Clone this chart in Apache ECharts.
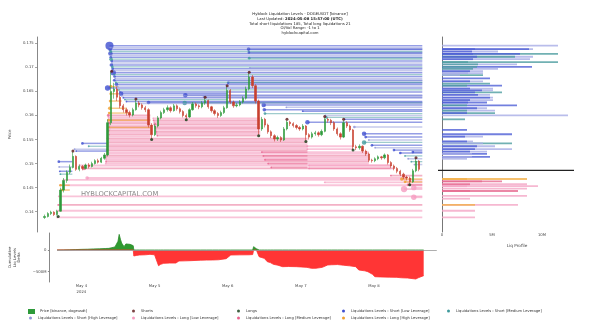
<!DOCTYPE html>
<html><head><meta charset="utf-8">
<script src="https://cdn.jsdelivr.net/npm/echarts@6/dist/echarts.min.js"></script>
<style>html,body{margin:0;padding:0;background:#fff}#c{width:600px;height:326px}</style>
</head><body><div id="c"></div>
<script>
// ---------- DATA ----------
// hourly candles, first candle at hour 16 of May 3 (hours counted from 2024-05-03 00:00 UTC)
const candleStartHour = 16;
const candles = [ // [open, close, low, high]
[.1388,.1390,.1385,.1394],[.1390,.1396,.1388,.1399],[.1396,.1399,.1393,.1402],[.1399,.1394,.1391,.1401],
[.1394,.1401,.1392,.1404],[.1401,.1445,.1400,.1450],[.1445,.1465,.1440,.1470],[.1465,.1482,.1460,.1486],
[.1482,.1492,.1478,.1498],[.1492,.1515,.1490,.1524],[.1515,.1488,.1485,.1517],[.1488,.1494,.1484,.1498],
[.1494,.1490,.1486,.1497],[.1490,.1497,.1488,.1500],[.1497,.1494,.1490,.1501],[.1494,.1500,.1492,.1504],
[.1500,.1506,.1498,.1509],[.1506,.1503,.1500,.1510],[.1503,.1511,.1501,.1514],[.1511,.1518,.1508,.1522],
[.1518,.1585,.1515,.1592],[.1585,.1650,.1580,.1690],[.1650,.1655,.1635,.1668],[.1655,.1638,.1630,.1660],
[.1638,.1620,.1615,.1642],[.1620,.1612,.1606,.1624],[.1612,.1606,.1600,.1616],[.1606,.1601,.1596,.1610],
[.1601,.1612,.1598,.1616],[.1612,.1626,.1610,.1632],[.1626,.1622,.1617,.1630],[.1622,.1616,.1612,.1625],
[.1616,.1612,.1607,.1620],[.1612,.1580,.1575,.1615],[.1580,.1560,.1552,.1584],[.1560,.1578,.1557,.1582],
[.1578,.1595,.1575,.1599],[.1595,.1606,.1592,.1610],[.1606,.1612,.1603,.1616],[.1612,.1616,.1608,.1621],
[.1616,.1610,.1606,.1619],[.1610,.1620,.1608,.1624],[.1620,.1614,.1610,.1623],[.1614,.1608,.1604,.1617],
[.1608,.1600,.1596,.1611],[.1600,.1597,.1593,.1604],[.1597,.1612,.1595,.1615],[.1612,.1624,.1610,.1628],
[.1624,.1620,.1616,.1627],[.1620,.1618,.1613,.1623],[.1618,.1626,.1615,.1630],[.1626,.1631,.1622,.1636],
[.1631,.1618,.1614,.1633],[.1618,.1610,.1606,.1620],[.1610,.1604,.1600,.1613],[.1604,.1600,.1595,.1607],
[.1600,.1606,.1597,.1610],[.1606,.1616,.1603,.1620],[.1616,.1652,.1614,.1660],[.1652,.1628,.1624,.1655],
[.1628,.1620,.1616,.1631],[.1620,.1622,.1617,.1626],[.1622,.1628,.1619,.1632],[.1628,.1636,.1625,.1640],
[.1636,.1655,.1633,.1660],[.1655,.1680,.1652,.1688],[.1680,.1662,.1657,.1684],[.1662,.1630,.1625,.1665],
[.1630,.1572,.1560,.1633],[.1572,.1592,.1568,.1597],[.1592,.1580,.1575,.1595],[.1580,.1566,.1562,.1583],
[.1566,.1558,.1553,.1569],[.1558,.1551,.1546,.1561],[.1551,.1554,.1547,.1558],[.1554,.1549,.1545,.1557],
[.1549,.1572,.1547,.1576],[.1572,.1586,.1569,.1590],[.1586,.1583,.1578,.1589],[.1583,.1579,.1575,.1586],
[.1579,.1575,.1571,.1582],[.1575,.1572,.1568,.1578],[.1572,.1578,.1569,.1582],[.1578,.1560,.1548,.1580],
[.1560,.1555,.1550,.1563],[.1555,.1562,.1552,.1566],[.1562,.1564,.1558,.1568],[.1564,.1560,.1556,.1567],
[.1560,.1567,.1557,.1571],[.1567,.1592,.1565,.1596],[.1592,.1590,.1585,.1595],[.1590,.1585,.1580,.1593],
[.1585,.1572,.1568,.1588],[.1572,.1562,.1558,.1575],[.1562,.1555,.1550,.1565],[.1555,.1585,.1553,.1590],
[.1585,.1578,.1574,.1588],[.1578,.1570,.1566,.1581],[.1570,.1535,.1530,.1572],[.1535,.1533,.1528,.1539],
[.1533,.1536,.1529,.1540],[.1536,.1526,.1522,.1538],[.1526,.1520,.1516,.1529],[.1520,.1507,.1503,.1523],
[.1507,.1506,.1502,.1510],[.1506,.1510,.1503,.1513],[.1510,.1514,.1507,.1517],[.1514,.1512,.1508,.1516],
[.1512,.1518,.1509,.1521],[.1518,.1502,.1498,.1520],[.1502,.1495,.1491,.1505],[.1495,.1490,.1486,.1498],
[.1490,.1484,.1480,.1493],[.1484,.1478,.1474,.1487],[.1478,.1472,.1468,.1481],[.1472,.1470,.1465,.1475],
[.1470,.1462,.1458,.1473],[.1462,.1485,.1460,.1489],[.1485,.1505,.1482,.1510],[.1505,.1488,.1484,.1507]
];

// liquidation levels: [startHour, endHour, price, typeIndex, amount]
// type 0 Short Low, 1 Short Medium, 2 Short High, 3 Long Low, 4 Long Medium, 5 Long High
const shortLevels = [
[36.6,136,.1745,0,9],[36.8,136,.1741,2,2],[36.8,136,.1737,0,4],[37.0,136,.1733,1,3],[36.9,136,.1729,0,5],
[37.2,136,.1725,2,2],[37.0,136,.1721,0,3],[37.1,136,.1717,1,4],[37.3,136,.1713,0,3],[37.4,136,.1709,2,2],
[37.2,136,.1705,0,4],[37.5,136,.1701,1,3],[37.6,136,.1697,0,3],[37.4,136,.1693,2,2],[37.8,136,.1689,0,6],
[38.0,136,.1685,1,2],[38.2,136,.1681,0,3],[38.4,136,.1677,2,2],[38.1,136,.1673,0,3],[38.6,136,.1669,1,2],
[38.8,136,.1665,0,4],[39.0,136,.1661,2,2],[36.0,136,.1657,0,6],[39.6,136,.1653,1,2],[39.9,136,.1649,0,2],
[40.3,74,.1645,0,5],[40.5,136,.1641,2,2],[41.0,136,.1637,0,2],[41.5,74,.1633,1,2],[42.0,136,.1629,0,2],
[45.5,136,.1625,2,1],
[60.7,136,.1642,0,5],[60.5,136,.1626,1,5],[49.0,136,.1627,0,4],[66.5,136,.1639,2,2],
[74.3,136,.1668,0,3],[74.5,136,.1672,2,2],[80.8,136,.1738,0,4],[80.9,136,.1731,0,3],[81.0,136,.1719,1,3],[81.2,136,.1699,2,2],
[85.6,136,.1622,0,5],[85.8,136,.1612,0,4],[86.0,136,.1604,1,3],[92.8,136,.1617,2,2],[98.0,136,.1609,0,2],
[99.5,136,.1586,0,5],[105.2,136,.1600,2,2],[105.5,136,.1596,1,3],
[111.3,136,.1592,0,2],[114.4,136,.1576,2,3],[117.5,136,.1562,0,5],[118.0,136,.1555,0,3],[117.5,136,.1544,1,5],
[119.0,136,.1549,2,2],[120.0,136,.1538,0,3],[121.0,136,.1533,2,2],
[127.0,136,.1528,0,3],[129.0,136,.1522,0,3],[130.5,136,.1516,1,2],[131.5,136,.1510,2,2],[132.5,136,.1504,1,2],
[133.5,136,.1498,2,2],[133.0,136,.1524,0,3],
[20.5,24.8,.1504,0,3],[20.6,24.8,.1493,2,2],[20.8,24.8,.1484,0,2],[21.0,24.8,.1478,1,2],
[28.0,35.8,.1542,0,3],[25.5,35.8,.1530,2,2],[26.0,35.8,.1526,0,2],[30.0,35.8,.1536,1,2]
];
const longLevels = [
[36.2,49.6,.1600,4,3],[36.3,49.6,.1596,3,2],[36.3,49.6,.1592,4,2],[36.4,49.6,.1588,3,2],[36.4,49.6,.1584,4,3],
[36.5,49.6,.1580,3,2],[36.5,49.6,.1576,4,2],[36.6,49.6,.1572,3,2],[36.2,49.6,.1568,4,3],[36.3,49.6,.1564,3,2],
[36.4,49.6,.1560,4,2],[36.2,49.6,.1556,3,2],
[36.1,99.5,.1552,4,3],[36.1,99.5,.1548,3,2],[36.0,99.5,.1544,4,2],[36.0,99.5,.1540,3,3],[36.0,99.5,.1536,4,2],
[35.9,99.5,.1532,3,2],[35.9,99.5,.1528,4,3],
[50.5,84.5,.1594,3,2],[50.6,84.5,.1590,4,2],[50.8,84.5,.1586,3,2],[51.0,84.5,.1582,4,3],[51.0,84.5,.1578,3,2],
[51.2,84.5,.1574,4,2],[51.4,84.5,.1570,3,2],[51.5,84.5,.1566,4,2],[51.6,84.5,.1562,3,2],[51.8,84.5,.1558,4,2],
[35.8,119,.1524,3,2],[35.8,119,.1520,3,2],[35.7,119,.1516,4,2],[35.6,119,.1512,3,2],[35.5,119,.1508,3,2],
[35.5,119,.1504,4,2],[35.4,119,.1500,3,2],
[85.0,99.5,.1524,4,2],[85.5,99.5,.1516,4,2],[86.0,99.5,.1508,4,2],[87.0,99.5,.1500,4,2],[88.0,99.5,.1492,4,2],
[99.5,114,.1536,3,2],[99.5,114,.1530,3,2],[100,126,.1496,3,2],[100,126,.1490,3,2],
[28.5,127,.1490,4,4],[29.5,131,.1470,3,4],[27.0,126,.1496,3,2],[22.0,136,.1466,3,2],[21.0,136,.1455,3,2],
[20.5,136,.1432,3,2],[20.3,136,.1414,4,2],[20.2,136,.1402,3,2],[20.0,136,.1388,3,2],
[37.0,39.5,.1660,5,4],[37.0,40.0,.1645,5,3],[36.8,40.5,.1630,5,3],[36.7,42.0,.1615,5,4],[36.5,43.0,.1605,5,3],
[36.3,49.6,.1590,5,3],[36.2,49.6,.1575,5,2],[21.0,24.0,.1455,5,3],[21.5,24.0,.1445,5,3],
[126,136,.1475,4,2],[129.5,136,.1468,5,4],[130.5,136,.1462,5,3],[131.5,136,.1456,4,3],[130.2,136,.1447,3,7],
[133.3,136,.1450,3,6],[133.3,136,.1430,3,6],[105,136,.1461,3,2]
];

// shorts / longs markers: [hour, price]
const shortsPts = [[25,.1526],[37.3,.1692],[45,.1634],[67,.1638],[74,.1662],[81,.1690],[93,.1592],[105,.1598],[111,.1592],[134,.1512]];
const longsPts = [[20.3,.1390],[50,.1550],[61,.1591],[84,.1558],[99,.1546],[114,.1528],[132,.1456]];

// cumulative liq levels delta (millions)
const deltaHours = [16,18,20,22,24,26,28,30,32,33,34,35,35.5,36,36.4,36.8,37.2,38,38.6,39,40,40.5,41,41.2,42,43,45,46.5,48,48.5,49.3,50,51,53,55,56,58,60,63,65,67,69,71.5,72,73,76,79,80.2,80.5,80.9,81.4,81.8,82.3,83,84,85,86,87,88.5,90,92,94.5,96,98,99.5,101,103,104.8,106,108,110,112,114,115,117,118,119.5,120.3,122,125,127.5,129,131,133.7,134.5,136.3];
const deltaValues = [0,3,5,10,15,18,25,28,35,38,55,70,115,200,360,250,160,77,140,154,130,135,100,-138,-125,-115,-110,-100,-110,-154,-361,-330,-307,-300,-300,-253,-250,-245,-235,-232,-230,-225,-200,-154,-115,-112,-110,-105,77,60,30,20,-154,-170,-192,-269,-290,-330,-350,-384,-380,-384,-390,-400,-422,-420,-400,-345,-340,-335,-350,-365,-384,-460,-480,-500,-560,-615,-620,-625,-630,-640,-645,-668,-640,-591];

// liq profile bars: [price, value (M), typeIndex]
const profile = [
[.1745,11.6,2],[.1738,9.1,2],[.1738,8.7,0],[.1738,3.3,0],[.1733,5.6,2],[.1733,3.0,0],[.1728,11.6,1],[.1728,7.8,0],[.1728,3.1,0],
[.1722,9.1,2],[.1722,7.3,1],[.1722,3.5,0],[.1717,8.8,2],[.1717,3.1,0],[.1711,11.6,1],[.1711,2.6,1],[.1706,7.5,2],[.1706,3.6,1],
[.1701,9.0,0],[.1701,3.5,1],[.1697,5.6,2],[.1697,3.1,1],[.1692,4.1,2],[.1692,2.8,0],[.1688,4.1,2],[.1688,2.6,2],[.1684,4.1,1],[.1684,1.8,2],
[.1677,4.8,0],[.1671,4.1,2],[.1671,2.8,0],[.1666,4.8,1],[.1662,6.0,0],[.1662,2.5,1],[.1656,5.1,2],[.1656,2.8,0],[.1652,5.1,2],[.1652,4.0,0],
[.1648,6.0,1],[.1648,3.3,0],[.1643,4.8,2],[.1643,3.6,0],[.1637,5.1,2],[.1637,4.8,0],[.1632,5.1,2],[.1632,2.8,0],[.1627,4.5,0],[.1627,2.6,0],
[.1621,7.5,0],[.1621,2.5,1],[.1615,4.5,2],[.1615,3.5,0],[.1610,5.3,2],[.1610,2.5,1],[.1605,5.3,1],[.1605,2.5,0],[.1600,12.6,2],
[.1592,2.3,1],[.1570,2.5,0],[.1561,7.0,0],[.1556,4.1,2],[.1556,2.3,0],[.1546,3.1,2],[.1546,2.5,0],[.1542,7.0,1],[.1542,4.1,2],
[.1536,5.3,2],[.1536,3.5,0],[.1530,7.0,2],[.1530,3.3,0],[.1525,4.5,2],[.1525,2.8,0],[.1520,4.5,0],[.1520,3.0,2],[.1514,4.8,0],[.1514,3.0,2],[.1510,2.5,2],
[.1468,8.5,5],[.1468,2.5,5],[.1463,6.0,4],[.1463,4.0,4],[.1457,8.5,3],[.1457,2.8,4],[.1453,9.6,3],[.1453,2.5,3],[.1448,8.5,3],
[.1443,7.6,4],[.1443,2.8,4],[.1433,8.5,3],[.1427,2.8,3],[.1414,7.6,3],[.1414,3.3,5],[.1402,3.3,3],[.1388,3.3,3]
];
const currentPrice = 0.1486;

const yTicks = [0.14,0.145,0.15,0.155,0.16,0.165,0.17,0.175];
const dayTicks = [24,48,72,96,120];
const dayLabels = ['May 4\n2024','May 5','May 6','May 7','May 8'];
const deltaTicks = [-500e6, 0];
const profileTicks = [0, 5e6, 10e6];

// ---------- CHART ----------
const FONT = 'DejaVu Sans';
const typeNames = ['Liquidations Levels - Short [Low Leverage]','Liquidations Levels - Short [Medium Leverage]','Liquidations Levels - Short [High Leverage]','Liquidations Levels - Long [Low Leverage]','Liquidations Levels - Long [Medium Leverage]','Liquidations Levels - Long [High Leverage]'];
const typeColors = ['#3e4fd0','#3f9a9c','#8e95d8','#f59cc0','#e8648e','#f0a030'];
const lineOpacity = [0.55,0.5,0.5,0.6,0.5,0.6];
const lineWidths = [1.5,1.3,1.5,1.8,1.8,1.4];
const profColors = ['#4f5fd6','#4e9ea0','#a7ade6','#f4a6c6','#e66a90','#f2b04a'];

const X_MIN = 13.5, X_MAX = 140.67, Y_MIN = 0.13578, Y_MAX = 0.17631;
const levels = shortLevels.concat(longLevels);

const levelSeries = typeNames.map((name, t) => ({
  type: 'custom', name, xAxisIndex: 0, yAxisIndex: 0, z: t < 3 ? 2 : 1,
  itemStyle: { color: typeColors[t] },
  data: levels.filter(l => l[3] === t).map(l => [l[0], l[1], l[2], l[4]]),
  encode: { x: [0, 1], y: 2 },
  renderItem: (params, api) => {
    const s = api.value(0), e = api.value(1), p = api.value(2), a = api.value(3);
    const p1 = api.coord([s, p]), p2 = api.coord([e, p]);
    return { type: 'group', children: [
      { type: 'line', shape: { x1: p1[0], y1: p1[1], x2: p2[0], y2: p2[1] }, style: { stroke: typeColors[t], lineWidth: lineWidths[t], opacity: lineOpacity[t] } },
      { type: 'circle', shape: { cx: p1[0], cy: p1[1], r: a * 0.45 }, style: { fill: typeColors[t], opacity: 0.8 } }
    ]};
  }
}));

const candleData = candles.map((c, i) => [candleStartHour + i, c[0], c[1], c[2], c[3]]);
const posData = deltaHours.map((h, i) => [h, Math.max(deltaValues[i], 0) * 1e6]);
const negData = deltaHours.map((h, i) => [h, Math.min(deltaValues[i], 0) * 1e6]);
const profData = profile.slice().sort((a, b) => b[1] - a[1]);

const legendItems = [
  ['Price [binance, dogeusdt]', 28, 309], ['Shorts', 132, 309], ['Longs', 237, 309], [typeNames[0], 342, 309], [typeNames[1], 447, 309],
  [typeNames[2], 29, 316], [typeNames[3], 132, 316], [typeNames[4], 237, 316], [typeNames[5], 342, 316]
];
const axisTxt = { fontSize: 3.8, color: '#444', fontFamily: FONT };

const option = {
  animation: false,
  backgroundColor: '#fff',
  title: [
    { text: 'Hyblock Liquidation Levels - DOGEUSDT [binance]', top: 12.5 },
    { text: '{n|Last Updated: }{b|2024-05-08 15:57:00 (UTC)}', top: 17.3 },
    { text: 'Total short liquidations 185, Total long liquidations 21', top: 21.8 },
    { text: 'OI/Vol Range: -1 to 1', top: 26.5 },
    { text: 'hyblockcapital.com', top: 31.2 }
  ].map(t => ({ ...t, left: 'center', padding: 0, textStyle: { fontSize: 3.8, fontWeight: 'normal', color: '#222', fontFamily: FONT,
      rich: { n: { fontSize: 3.8, fontFamily: FONT, color: '#222' }, b: { fontSize: 3.8, fontWeight: 'bold', fontFamily: FONT, color: '#222' } } } })),
  legend: legendItems.map(([n, l, t]) => ({
    data: [n], left: l, top: t, padding: 0, itemGap: 0, itemWidth: n.startsWith('Price') ? 5 : 3, itemHeight: 3,
    icon: n.startsWith('Price') ? 'rect' : 'circle', selectedMode: false,
    textStyle: { fontSize: 3.7, color: '#333', fontFamily: FONT, padding: [0, 0, 0, 1] }
  })),
  graphic: [{ type: 'text', left: 81, top: 191, silent: true, style: { text: 'HYBLOCKCAPITAL.COM', fontSize: 6.8, fill: '#8a8a8a', fontFamily: FONT } }],
  grid: [
    { left: 25, top: 37, width: 412, height: 195 },
    { left: 25, top: 233, width: 412, height: 49 },
    { left: 442, top: 37, width: 150, height: 195 }
  ],
  xAxis: [
    { type: 'value', gridIndex: 0, min: X_MIN, max: X_MAX, axisLine: { show: false }, axisTick: { show: false }, axisLabel: { show: false }, splitLine: { show: false } },
    { type: 'value', gridIndex: 1, min: X_MIN, max: X_MAX, axisLine: { show: false }, axisTick: { show: false }, splitLine: { show: false },
      axisLabel: { ...axisTxt, customValues: dayTicks, margin: 1.5, lineHeight: 5.5, formatter: v => dayLabels[dayTicks.indexOf(Math.round(v))] || '' } },
    { type: 'value', gridIndex: 2, min: 0, max: 15e6, axisLine: { show: false }, axisTick: { show: false }, splitLine: { show: false },
      axisLabel: { ...axisTxt, customValues: profileTicks, margin: 1.5, formatter: v => v === 0 ? '0' : (v / 1e6) + 'M' },
      name: 'Liq Profile', nameLocation: 'middle', nameGap: 12, nameTextStyle: { fontSize: 4.2, color: '#444', fontFamily: FONT } }
  ],
  yAxis: [
    { type: 'value', gridIndex: 0, min: Y_MIN, max: Y_MAX, splitLine: { show: false },
      axisLine: { show: true, lineStyle: { color: '#888', width: 1 } },
      axisTick: { show: true, customValues: yTicks, length: 1.5, lineStyle: { color: '#888' } },
      axisLabel: { ...axisTxt, customValues: yTicks, margin: 3, formatter: v => String(+v.toFixed(3)) },
      name: 'Price', nameLocation: 'middle', nameGap: 13, nameRotate: 90, nameTextStyle: { fontSize: 4, color: '#444', fontFamily: FONT } },
    { type: 'value', gridIndex: 1, min: -737e6, max: 392e6, splitLine: { show: false },
      axisLine: { show: true, lineStyle: { color: '#888', width: 1 } },
      axisTick: { show: true, customValues: deltaTicks, length: 1.5, lineStyle: { color: '#888' } },
      axisLabel: { ...axisTxt, customValues: deltaTicks, margin: 3, formatter: v => v === 0 ? '0' : ((v / 1e6) + 'M').replace('-', '\u2212') },
      name: 'Cumulative\nLiq Levels\nDelta', nameLocation: 'middle', nameGap: 17, nameRotate: 90, nameTextStyle: { fontSize: 3.8, color: '#444', fontFamily: FONT, lineHeight: 4.6 } },
    { type: 'value', gridIndex: 2, min: Y_MIN, max: Y_MAX, splitLine: { show: false }, axisTick: { show: false }, axisLabel: { show: false },
      axisLine: { show: true, lineStyle: { color: '#777', width: 1 } } }
  ],
  series: [
    ...levelSeries,
    { type: 'candlestick', name: 'Price [binance, dogeusdt]', xAxisIndex: 0, yAxisIndex: 0, z: 3, barWidth: 1.8,
      data: candleData, encode: { x: 0, y: [1, 2, 3, 4] },
      itemStyle: { color: '#2e9a3a', color0: '#c8402f', borderColor: '#2e9a3a', borderColor0: '#c8402f', borderWidth: 0.6 } },
    { type: 'scatter', name: 'Shorts', xAxisIndex: 0, yAxisIndex: 0, z: 4, data: shortsPts, symbolSize: 3, itemStyle: { color: '#5a1414' } },
    { type: 'scatter', name: 'Longs', xAxisIndex: 0, yAxisIndex: 0, z: 4, data: longsPts, symbolSize: 3, itemStyle: { color: '#0f3a12' } },
    { type: 'line', name: 'deltaPos', xAxisIndex: 1, yAxisIndex: 1, data: posData, showSymbol: false, silent: true,
      lineStyle: { color: '#2a8a2a', width: 0.8 }, areaStyle: { color: '#2f9a2f', opacity: 1 } },
    { type: 'line', name: 'deltaNeg', xAxisIndex: 1, yAxisIndex: 1, data: negData, showSymbol: false, silent: true,
      lineStyle: { color: '#ff2f2f', width: 0.8 }, areaStyle: { color: '#ff3535', opacity: 1 },
      markLine: { silent: true, symbol: 'none', label: { show: false }, lineStyle: { color: '#999', width: 0.8, type: 'solid' },
        data: [[{ coord: [16, 0] }, { coord: [140.6, 0] }]] } },
    { type: 'custom', name: 'profile', xAxisIndex: 2, yAxisIndex: 2, data: profData, encode: { x: 1, y: 0 },
      renderItem: (params, api) => {
        const p = api.value(0), v = api.value(1), t = api.value(2);
        const a = api.coord([0, p]), b = api.coord([v * 1e6, p]);
        return { type: 'rect', shape: { x: a[0], y: a[1] - 0.9, width: b[0] - a[0], height: 1.8 }, style: { fill: profColors[t], opacity: 0.8 } };
      } },
    { type: 'custom', name: 'current', xAxisIndex: 2, yAxisIndex: 2, data: [[-0.4e6, 13.2e6, currentPrice]], encode: { x: [0, 1], y: 2 }, z: 5,
      renderItem: (params, api) => {
        const a = api.coord([api.value(0), api.value(2)]), b = api.coord([api.value(1), api.value(2)]);
        return { type: 'line', shape: { x1: a[0], y1: a[1], x2: b[0], y2: b[1] }, style: { stroke: '#222', lineWidth: 1.2 } };
      } }
  ]
};
const chart = echarts.init(document.getElementById('c'));
chart.setOption(option);
</script>
</body></html>
